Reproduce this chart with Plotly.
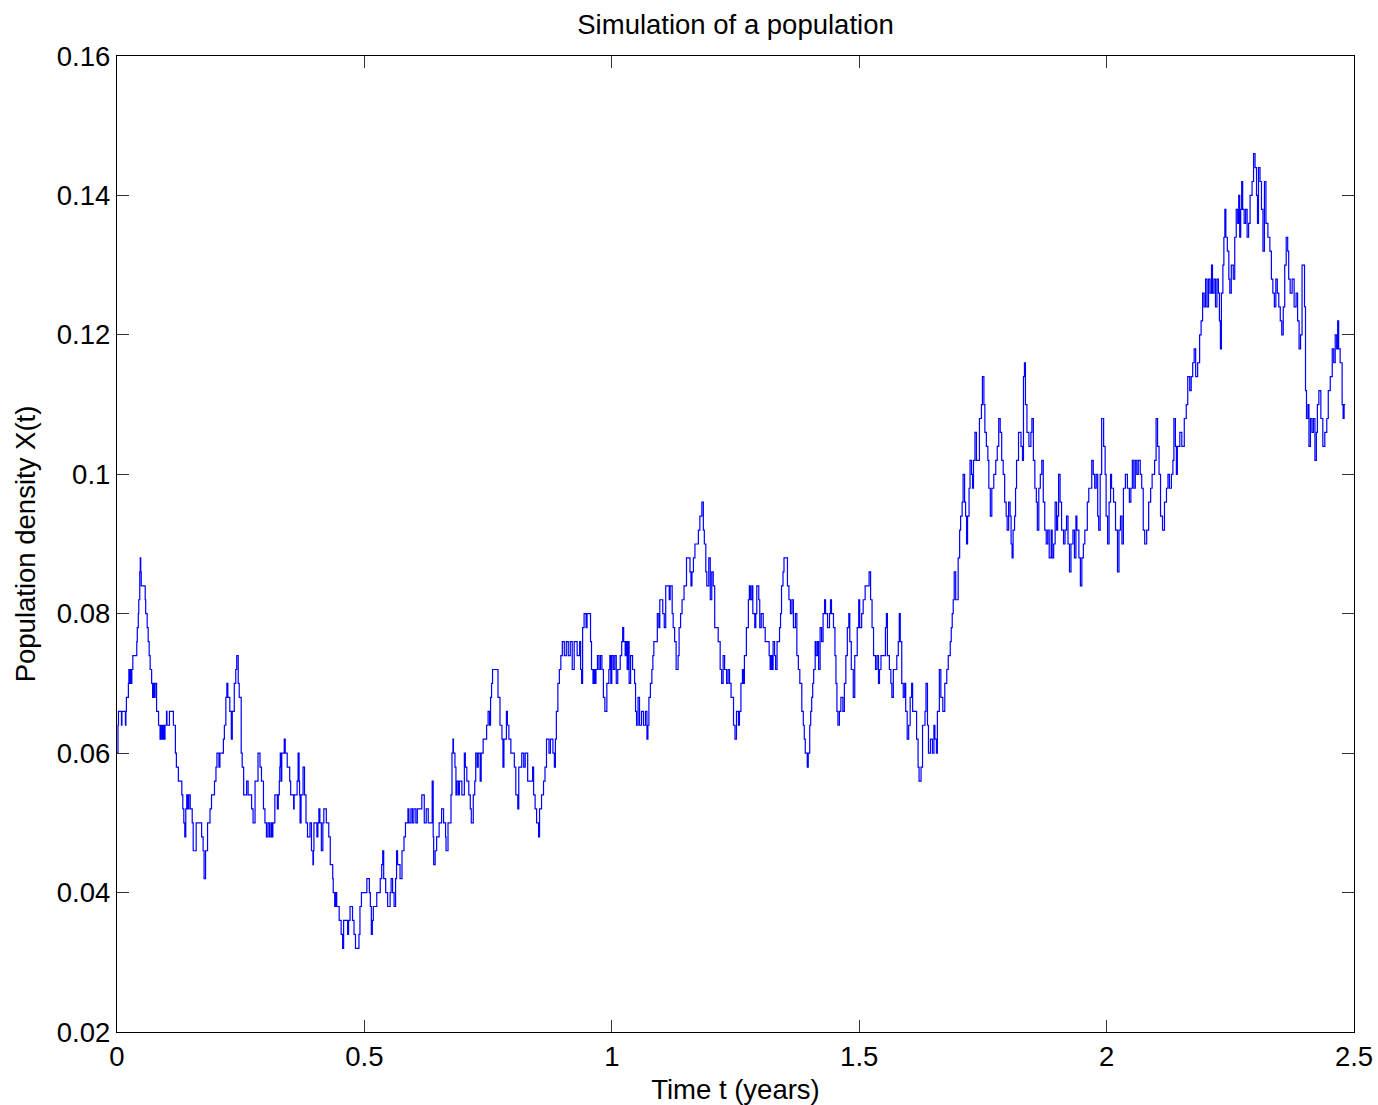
import plotly.graph_objects as go

# ---- data: simulated population density (step path) ----
time_1 = [0.000,0.002,0.003,0.009,0.010,0.017,0.018,0.019,0.023,0.024,
          0.026,0.027,0.029,0.030,0.032,0.040,0.041,0.043,0.044,0.046,
          0.047,0.048,0.049,0.057,0.058,0.061,0.063,0.065,0.067,0.070,
          0.072,0.073,0.075,0.077,0.080,0.084,0.087,0.089,0.091,0.093,
          0.095,0.097,0.100,0.101,0.106,0.114,0.118,0.120,0.124,0.131,
          0.133,0.135,0.137,0.139,0.141,0.143,0.145,0.148,0.152,0.154,
          0.158,0.160,0.165,0.171,0.174,0.176,0.179,0.183,0.188,0.191,
          0.197,0.200,0.202,0.206,0.208,0.215,0.217,0.220,0.222,0.224,
          0.228,0.231,0.233,0.237,0.240,0.242,0.245,0.247,0.251,0.253,
          0.256,0.262,0.265,0.272,0.275,0.279,0.285,0.289,0.292,0.296,
          0.299,0.302,0.305,0.308,0.311,0.313,0.315]
dens_1 = [.060,.064,.066,.064,.066,.064,.066,.068,.070,.072,
          .070,.072,.070,.072,.074,.076,.078,.080,.082,.086,
          .088,.086,.084,.082,.080,.078,.076,.074,.072,.070,
          .068,.070,.068,.070,.066,.064,.062,.064,.062,.064,
          .062,.064,.066,.064,.066,.064,.060,.058,.056,.054,
          .052,.050,.048,.052,.054,.052,.054,.052,.050,.046,
          .046,.050,.050,.048,.046,.042,.046,.050,.052,.054,
          .056,.058,.060,.058,.060,.062,.064,.068,.070,.068,
          .066,.062,.066,.070,.072,.074,.070,.068,.060,.058,
          .054,.056,.054,.052,.050,.056,.060,.058,.056,.052,
          .050,.048,.050,.048,.050,.048,.050]

time_2 = [0.319,0.324,0.326,0.328,0.329,0.330,0.332,0.333,0.338,0.340,
          0.344,0.349,0.351,0.357,0.358,0.364,0.366,0.368,0.369,0.370,
          0.372,0.376,0.379,0.382,0.385,0.390,0.393,0.396,0.397,0.398,
          0.404,0.406,0.408,0.410,0.413,0.416,0.418,0.423,0.428,0.431,
          0.436,0.437,0.440,0.442,0.444,0.449,0.453,0.456,0.458,0.464,
          0.466,0.468,0.471,0.474,0.476,0.479,0.482,0.489,0.491,0.494,
          0.503,0.505,0.510,0.512,0.514,0.516,0.518,0.525,0.532,0.535,
          0.537,0.539,0.543,0.547,0.552,0.554,0.557,0.560,0.563,0.565,
          0.567,0.572,0.576,0.580,0.583,0.588,0.590,0.594,0.597,0.600,
          0.604,0.607,0.616,0.621,0.625]
dens_2 = [.054,.052,.054,.056,.058,.060,.056,.060,.062,.060,
          .058,.056,.054,.052,.054,.056,.060,.056,.054,.050,
          .054,.058,.054,.050,.048,.050,.046,.044,.046,.050,
          .048,.050,.052,.050,.046,.050,.052,.050,.048,.044,
          .042,.040,.038,.040,.038,.036,.034,.032,.036,.036,
          .034,.036,.038,.038,.036,.034,.032,.034,.038,.040,
          .040,.042,.040,.038,.034,.036,.038,.040,.042,.044,
          .046,.042,.040,.038,.040,.042,.040,.038,.042,.046,
          .044,.042,.046,.048,.050,.052,.050,.052,.050,.052,
          .050,.052,.054,.050,.052]

time_3 = [0.629,0.636,0.637,0.639,0.640,0.643,0.646,0.651,0.656,0.660,
          0.664,0.665,0.669,0.675,0.677,0.679,0.680,0.683,0.685,0.687,
          0.690,0.692,0.697,0.702,0.704,0.707,0.711,0.714,0.716,0.720,
          0.723,0.725,0.728,0.730,0.734,0.736,0.740,0.747,0.750,0.753,
          0.755,0.757,0.759,0.770,0.774,0.778,0.780,0.782,0.787,0.789,
          0.792,0.796,0.803,0.806,0.810,0.812,0.818,0.822,0.825,0.830,
          0.838,0.840,0.842,0.845,0.848,0.852,0.854,0.858,0.862,0.865,
          0.868,0.873,0.876,0.881,0.884,0.886,0.888,0.891,0.894,0.897]
dens_3 = [.050,.050,.056,.048,.044,.046,.048,.050,.052,.050,
          .048,.046,.050,.054,.060,.062,.060,.058,.054,.056,
          .054,.056,.054,.060,.058,.056,.054,.052,.050,.054,
          .056,.060,.058,.060,.056,.060,.062,.064,.066,.064,
          .068,.070,.072,.068,.064,.062,.058,.062,.066,.064,
          .062,.060,.058,.054,.052,.058,.060,.058,.060,.056,
          .056,.058,.054,.052,.050,.048,.052,.054,.056,.058,
          .062,.060,.062,.060,.058,.062,.066,.070,.072,.074]

time_4 = [0.900,0.904,0.908,0.912,0.916,0.920,0.924,0.930,0.935,0.937,
          0.939,0.941,0.944,0.948,0.950,0.955,0.957,0.959,0.962,0.964,
          0.966,0.968,0.971,0.974,0.977,0.980,0.983,0.986,0.990,0.994,
          0.996,0.998,1.000,1.003,1.006,1.009,1.012,1.017,1.020,1.022,
          1.024,1.027,1.029,1.031,1.033,1.035,1.038,1.042,1.046,1.048,
          1.050,1.053,1.056,1.060,1.064,1.068,1.071,1.073,1.075,1.078,
          1.081,1.083,1.085,1.092,1.095,1.097,1.103,1.106,1.109,1.114,
          1.116,1.118,1.122,1.124,1.127,1.130,1.134,1.136,1.139,1.142,
          1.146,1.151,1.158,1.160,1.162,1.165,1.168,1.172,1.175,1.178,
          1.182,1.185,1.187,1.190,1.192,1.196,1.199,1.202,1.205,1.208,
          1.212,1.215,1.219,1.222,1.225,1.228,1.232,1.235,1.238,1.241,
          1.246,1.249,1.252,1.256]
dens_4 = [.076,.074,.076,.074,.076,.072,.076,.074,.076,.072,
          .070,.078,.080,.078,.080,.080,.076,.072,.070,.072,
          .070,.072,.074,.072,.074,.072,.068,.066,.070,.072,
          .074,.070,.074,.072,.074,.070,.072,.074,.076,.078,
          .076,.074,.076,.072,.076,.070,.074,.072,.070,.066,
          .064,.068,.064,.066,.064,.066,.062,.064,.068,.070,
          .072,.074,.076,.080,.078,.082,.080,.078,.084,.084,
          .082,.084,.080,.078,.076,.072,.074,.078,.080,.082,
          .084,.088,.086,.084,.086,.088,.090,.090,.092,.094,
          .096,.092,.090,.086,.084,.088,.082,.086,.084,.078,
          .078,.076,.072,.070,.074,.072,.070,.072,.070,.068,
          .064,.062,.066,.064]

time_5 = [1.258,1.261,1.264,1.266,1.268,1.272,1.276,1.278,1.280,1.283,
          1.285,1.289,1.291,1.293,1.297,1.299,1.302,1.306,1.310,1.315,
          1.318,1.320,1.322,1.324,1.326,1.329,1.331,1.334,1.339,1.341,
          1.343,1.346,1.348,1.355,1.358,1.361,1.364,1.367,1.371,1.374,
          1.377,1.380,1.384,1.387,1.389,1.391,1.395,1.397,1.400,1.402,
          1.404,1.406,1.408,1.411,1.413,1.416,1.418,1.421,1.424,1.427,
          1.430,1.432,1.436,1.440,1.442,1.444,1.448,1.451,1.453,1.455,
          1.457,1.460,1.463,1.467,1.470,1.473,1.476,1.479,1.481,1.484,
          1.488,1.491,1.496,1.499,1.501,1.505,1.508,1.512,1.518,1.520,
          1.523,1.526,1.529,1.533,1.536,1.539,1.541,1.544,1.550,1.553,
          1.555,1.557,1.561,1.564,1.566,1.569]
dens_5 = [.066,.070,.072,.070,.074,.078,.082,.084,.082,.084,
          .080,.078,.080,.084,.082,.078,.080,.078,.076,.076,
          .074,.072,.074,.072,.076,.074,.072,.076,.078,.080,
          .084,.086,.088,.084,.082,.080,.082,.078,.080,.074,
          .072,.070,.066,.064,.062,.060,.058,.060,.064,.066,
          .068,.070,.072,.076,.074,.076,.072,.078,.076,.080,
          .082,.080,.078,.080,.082,.080,.078,.074,.070,.066,
          .064,.066,.068,.066,.070,.074,.078,.080,.076,.072,
          .068,.074,.078,.082,.078,.080,.082,.084,.084,.086,
          .082,.078,.074,.072,.074,.070,.072,.074,.074,.078,
          .080,.074,.072,.070,.068,.072]

time_6 = [1.572,1.576,1.579,1.581,1.583,1.586,1.589,1.592,1.594,1.597,
          1.600,1.603,1.606,1.608,1.614,1.616,1.619,1.621,1.625,1.628,
          1.633,1.635,1.638,1.640,1.644,1.648,1.651,1.653,1.656,1.658,
          1.662,1.665,1.669,1.673,1.677,1.680,1.684,1.686,1.688,1.690,
          1.692,1.695,1.700,1.703,1.705,1.708,1.710,1.713,1.715,1.717,
          1.719,1.722,1.724,1.727,1.729,1.731,1.734,1.737,1.741,1.743,
          1.747,1.749,1.752,1.754,1.757,1.760,1.762,1.765,1.768,1.772,
          1.776,1.779,1.782,1.785,1.788,1.791,1.794,1.797,1.799,1.802,
          1.805,1.807,1.809,1.811,1.814,1.816,1.818,1.822,1.827,1.830,
          1.832,1.834,1.836,1.839,1.843,1.847,1.849,1.852,1.855,1.858,
          1.860,1.863,1.866,1.869,1.872,1.875,1.878,1.881,1.884]
dens_6 = [.072,.074,.076,.080,.076,.070,.068,.070,.066,.062,
          .064,.068,.070,.066,.066,.062,.058,.056,.058,.064,
          .066,.070,.064,.060,.062,.060,.064,.062,.060,.066,
          .072,.068,.066,.070,.072,.074,.076,.078,.080,.082,
          .086,.082,.088,.092,.094,.096,.100,.096,.094,.090,
          .094,.098,.102,.100,.098,.102,.106,.102,.102,.108,
          .110,.114,.110,.106,.104,.102,.098,.094,.098,.100,
          .102,.104,.108,.106,.102,.100,.096,.094,.092,.096,
          .094,.090,.088,.092,.094,.098,.102,.106,.104,.102,
          .114,.116,.110,.106,.104,.106,.108,.102,.098,.096,
          .092,.098,.100,.102,.096,.092,.090,.092,.088]

time_7 = [1.888,1.890,1.893,1.896,1.899,1.901,1.903,1.906,1.909,1.913,
          1.916,1.919,1.922,1.925,1.928,1.932,1.935,1.938,1.940,1.944,
          1.947,1.950,1.953,1.956,1.961,1.964,1.970,1.973,1.976,1.979,
          1.982,1.984,1.987,1.990,1.994,1.997,1.999,2.002,2.005,2.008,
          2.010,2.014,2.018,2.022,2.025,2.028,2.031,2.034,2.038,2.042,
          2.046,2.049,2.052,2.055,2.058,2.061,2.064,2.068,2.071,2.074,
          2.077,2.081,2.085,2.089,2.092,2.097,2.100,2.103,2.106,2.109,
          2.113,2.117,2.121,2.124,2.127,2.131,2.134,2.136,2.139,2.141,
          2.143,2.148,2.152,2.157,2.161,2.164,2.168,2.171,2.174]
dens_7 = [.092,.088,.090,.096,.092,.094,.100,.096,.092,.090,
          .092,.094,.090,.086,.090,.092,.088,.094,.092,.088,
          .084,.088,.090,.092,.096,.098,.102,.100,.098,.100,
          .094,.092,.100,.108,.104,.100,.094,.090,.096,.100,
          .098,.096,.092,.086,.092,.094,.090,.098,.100,.098,
          .096,.098,.102,.098,.102,.100,.102,.100,.098,.092,
          .090,.092,.096,.098,.100,.102,.108,.104,.100,.094,
          .092,.096,.098,.100,.098,.100,.102,.108,.104,.100,
          .104,.106,.104,.108,.110,.114,.112,.114,.116]

time_8 = [2.177,2.180,2.184,2.188,2.191,2.194,2.197,2.200,2.203,2.206,
          2.209,2.212,2.214,2.217,2.220,2.223,2.226,2.228,2.230,2.232,
          2.235,2.237,2.239,2.241,2.244,2.247,2.249,2.252,2.256,2.259,
          2.262,2.265,2.267,2.269,2.271,2.273,2.275,2.278,2.281,2.284,
          2.287,2.290,2.294,2.297,2.300,2.303,2.305,2.307,2.310,2.313,
          2.316,2.319,2.322,2.326,2.330,2.333,2.336,2.339,2.342,2.345,
          2.348,2.351,2.354,2.357,2.360,2.363,2.366,2.368,2.371,2.375,
          2.379,2.383,2.386,2.389,2.392,2.395,2.400,2.402,2.404,2.407,
          2.409,2.412,2.415,2.418,2.421,2.424,2.426,2.429,2.433,2.437,
          2.441,2.445,2.448,2.452,2.456,2.459,2.462,2.465,2.467,2.469,
          2.472,2.476,2.478,2.480,2.482]
dens_8 = [.118,.114,.116,.120,.122,.126,.124,.128,.124,.128,
          .126,.130,.126,.128,.124,.128,.126,.122,.118,.126,
          .130,.134,.138,.134,.132,.128,.126,.130,.128,.134,
          .138,.136,.140,.134,.138,.142,.138,.136,.138,.134,
          .136,.140,.142,.146,.144,.140,.136,.144,.142,.138,
          .132,.142,.136,.134,.132,.128,.126,.124,.128,.126,
          .124,.122,.120,.124,.130,.134,.132,.128,.126,.128,
          .124,.126,.122,.118,.120,.130,.124,.112,.108,.110,
          .104,.108,.106,.108,.102,.106,.110,.112,.108,.104,
          .106,.108,.112,.114,.118,.116,.120,.118,.122,.118,
          .116,.110,.108,.110,.110]

x_tick_vals = [0, 0.5, 1, 1.5, 2, 2.5]
x_tick_text = ["0", "0.5", "1", "1.5", "2", "2.5"]
y_tick_vals = [0.02, 0.04, 0.06, 0.08, 0.10, 0.12, 0.14, 0.16]
y_tick_text = ["0.02", "0.04", "0.06", "0.08", "0.1", "0.12", "0.14", "0.16"]

time_years = []
density = []
for tt, dd in [(time_1, dens_1), (time_2, dens_2), (time_3, dens_3), (time_4, dens_4),
               (time_5, dens_5), (time_6, dens_6), (time_7, dens_7), (time_8, dens_8)]:
    assert len(tt) == len(dd), (len(tt), len(dd))
    time_years += tt
    density += dd

FONT = "Liberation Sans, Arial, Helvetica, sans-serif"
FS = 27.5

fig = go.Figure()
fig.add_trace(go.Scatter(
    x=time_years, y=density, mode="lines",
    line=dict(color="#0000ff", width=1.2, shape="hv"),
    showlegend=False, hoverinfo="x+y",
))

axis_common = dict(
    showgrid=False, zeroline=False, showline=True, linecolor="black", linewidth=1.3,
    mirror="ticks", ticks="inside", ticklen=12, tickwidth=1, tickcolor="#333333",
    tickfont=dict(family=FONT, size=FS, color="black"),
)

W, H = 1378, 1105
fig.update_layout(
    width=W, height=H,
    paper_bgcolor="white", plot_bgcolor="white",
    margin=dict(l=117, r=24, t=56, b=73, autoexpand=False),
    title=dict(text="Simulation of a population", x=0.5, xref="paper",
               y=1 - 24 / H, yref="container", yanchor="middle", xanchor="center",
               font=dict(family=FONT, size=FS, color="black")),
    xaxis=dict(range=[0, 2.5], tickvals=x_tick_vals, ticktext=x_tick_text,
               title=dict(text="Time t (years)", standoff=11,
                          font=dict(family=FONT, size=FS, color="black")),
               **axis_common),
    yaxis=dict(range=[0.02, 0.16], tickvals=y_tick_vals, ticktext=y_tick_text,
               title=dict(text="Population density X(t)", standoff=13,
                          font=dict(family=FONT, size=FS, color="black")),
               **axis_common),
)

# remove the default 8 px page margin so the figure fills the window exactly
fig.write_html("out.html",
               config={"displayModeBar": False},
               post_script="document.body.style.margin='0';document.body.style.overflow='hidden';")
